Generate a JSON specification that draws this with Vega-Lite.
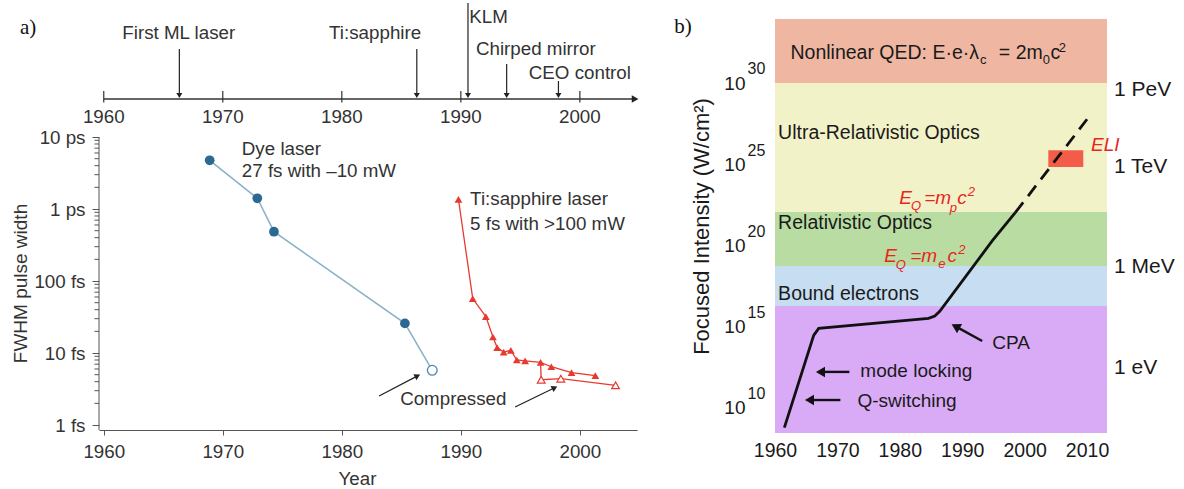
{
  "$schema": "https://vega.github.io/schema/vega-lite/v6.json",
  "background": "white",
  "padding": {"left": 11, "top": 2, "right": 14, "bottom": 4},
  "bounds": "flush",
  "spacing": 138,
  "config": {
    "view": {"stroke": null},
    "font": "Liberation Sans",
    "text": {"font": "Liberation Sans"},
    "axis": {"labelFont": "Liberation Sans", "titleFont": "Liberation Sans", "grid": false, "labelFlush": false, "labelOverlap": false}
  },
  "datasets": {
    "pulses": [
      {"s": "dye", "m": "f", "year": 1968.9, "fs": 4750},
      {"s": "dye", "m": "f", "year": 1972.9, "fs": 1410},
      {"s": "dye", "m": "f", "year": 1974.3, "fs": 484},
      {"s": "dye", "m": "f", "year": 1985.3, "fs": 25.8},
      {"s": "dye", "m": "o", "year": 1987.6, "fs": 5.75},
      {"s": "ti", "m": "f", "year": 1989.8, "fs": 1365},
      {"s": "ti", "m": "f", "year": 1991.0, "fs": 57},
      {"s": "ti", "m": "f", "year": 1992.1, "fs": 32},
      {"s": "ti", "m": "f", "year": 1992.7, "fs": 16.7},
      {"s": "ti", "m": "f", "year": 1993.05, "fs": 11.9},
      {"s": "ti", "m": "f", "year": 1993.6, "fs": 10.3},
      {"s": "ti", "m": "f", "year": 1994.2, "fs": 10.9},
      {"s": "ti", "m": "f", "year": 1994.7, "fs": 8.0},
      {"s": "ti", "m": "f", "year": 1995.4, "fs": 7.8},
      {"s": "ti", "m": "f", "year": 1996.7, "fs": 7.4},
      {"s": "ti", "m": "f", "year": 1997.6, "fs": 6.45},
      {"s": "ti", "m": "f", "year": 1999.3, "fs": 5.35},
      {"s": "ti", "m": "f", "year": 2001.3, "fs": 4.84},
      {"s": "tic", "m": "n", "year": 1996.7, "fs": 7.4},
      {"s": "tic", "m": "o", "year": 1996.75, "fs": 4.26},
      {"s": "tic", "m": "o", "year": 1998.4, "fs": 4.4},
      {"s": "tic", "m": "o", "year": 2003.0, "fs": 3.56}
    ],
    "minor": [
      {"year": 1959.6, "year2": 1959.22, "fs": 2}, {"year": 1959.6, "year2": 1959.22, "fs": 3}, {"year": 1959.6, "year2": 1959.22, "fs": 4}, {"year": 1959.6, "year2": 1959.22, "fs": 5},
      {"year": 1959.6, "year2": 1959.22, "fs": 6}, {"year": 1959.6, "year2": 1959.22, "fs": 7}, {"year": 1959.6, "year2": 1959.22, "fs": 8}, {"year": 1959.6, "year2": 1959.22, "fs": 9},
      {"year": 1959.6, "year2": 1959.22, "fs": 20}, {"year": 1959.6, "year2": 1959.22, "fs": 30}, {"year": 1959.6, "year2": 1959.22, "fs": 40}, {"year": 1959.6, "year2": 1959.22, "fs": 50},
      {"year": 1959.6, "year2": 1959.22, "fs": 60}, {"year": 1959.6, "year2": 1959.22, "fs": 70}, {"year": 1959.6, "year2": 1959.22, "fs": 80}, {"year": 1959.6, "year2": 1959.22, "fs": 90},
      {"year": 1959.6, "year2": 1959.22, "fs": 200}, {"year": 1959.6, "year2": 1959.22, "fs": 300}, {"year": 1959.6, "year2": 1959.22, "fs": 400}, {"year": 1959.6, "year2": 1959.22, "fs": 500},
      {"year": 1959.6, "year2": 1959.22, "fs": 600}, {"year": 1959.6, "year2": 1959.22, "fs": 700}, {"year": 1959.6, "year2": 1959.22, "fs": 800}, {"year": 1959.6, "year2": 1959.22, "fs": 900},
      {"year": 1959.6, "year2": 1959.22, "fs": 2000}, {"year": 1959.6, "year2": 1959.22, "fs": 3000}, {"year": 1959.6, "year2": 1959.22, "fs": 4000}, {"year": 1959.6, "year2": 1959.22, "fs": 5000},
      {"year": 1959.6, "year2": 1959.22, "fs": 6000}, {"year": 1959.6, "year2": 1959.22, "fs": 7000}, {"year": 1959.6, "year2": 1959.22, "fs": 8000}, {"year": 1959.6, "year2": 1959.22, "fs": 9000}
    ],
    "a_texts": [
      {"t": "Dye laser", "year": 1971.6, "fs": 6813},
      {"t": "27 fs with \u201310 mW", "year": 1971.6, "fs": 3373},
      {"t": "Ti:sapphire laser", "year": 1990.78, "fs": 1377},
      {"t": "5 fs with >100 mW", "year": 1990.78, "fs": 619},
      {"t": "Compressed", "year": 1984.9, "fs": 2.3}
    ],
    "a_arrows": [
      {"year": 1983.13, "fs": 2.53, "year2": 1986.36, "fs2": 4.82},
      {"year": 1994.56, "fs": 1.78, "year2": 1997.88, "fs2": 3.29}
    ],
    "a_heads": [
      {"year": 1986.36, "fs": 4.82},
      {"year": 1997.88, "fs": 3.29}
    ],
    "tl_line": [{"year": 1960, "year2": 2004.4, "lv": 0}],
    "tl_head": [{"year": 2004.64, "lv": 0}],
    "tl_ticks": [
      {"year": 1960, "lv": 0.8, "lv2": -0.35}, {"year": 1970, "lv": 0.8, "lv2": -0.35},
      {"year": 1980, "lv": 0.8, "lv2": -0.35}, {"year": 1990, "lv": 0.8, "lv2": -0.35},
      {"year": 2000, "lv": 0.8, "lv2": -0.35}
    ],
    "tl_labels": [
      {"t": "1960", "year": 1960, "lv": -1.8}, {"t": "1970", "year": 1970, "lv": -1.8},
      {"t": "1980", "year": 1980, "lv": -1.8}, {"t": "1990", "year": 1990, "lv": -1.8},
      {"t": "2000", "year": 2000, "lv": -1.8}
    ],
    "ev_rules": [
      {"year": 1966.35, "lv": 5.0, "lv2": 0.6},
      {"year": 1986.3, "lv": 5.0, "lv2": 0.6},
      {"year": 1990.6, "lv": 9.6, "lv2": 0.6},
      {"year": 1993.85, "lv": 3.5, "lv2": 0.6},
      {"year": 1998.2, "lv": 1.8, "lv2": 0.6}
    ],
    "ev_heads": [
      {"year": 1966.35, "lv": 0.35}, {"year": 1986.3, "lv": 0.35}, {"year": 1990.6, "lv": 0.35},
      {"year": 1993.85, "lv": 0.35}, {"year": 1998.2, "lv": 0.35}
    ],
    "ev_labels": [
      {"t": "First ML laser", "year": 1966.3, "lv": 6.6},
      {"t": "Ti:sapphire", "year": 1982.8, "lv": 6.6},
      {"t": "KLM", "year": 1992.33, "lv": 8.2},
      {"t": "Chirped mirror", "year": 1996.3, "lv": 5.0},
      {"t": "CEO control", "year": 2000.0, "lv": 2.6}
    ],
    "bands": [
      {"band": "qed", "year": 1960, "year2": 2013.2, "e": 30, "e2": 33.94},
      {"band": "ultra", "year": 1960, "year2": 2013.2, "e": 22.06, "e2": 30},
      {"band": "rel", "year": 1960, "year2": 2013.2, "e": 18.74, "e2": 22.06},
      {"band": "bound", "year": 1960, "year2": 2013.2, "e": 16.28, "e2": 18.74},
      {"band": "low", "year": 1960, "year2": 2013.2, "e": 8.46, "e2": 16.28}
    ],
    "eli": [{"year": 2003.8, "year2": 2009.4, "e": 24.83, "e2": 25.86}],
    "curve_solid": [
      {"year": 1961.5, "e": 8.79}, {"year": 1966.2, "e": 14.47}, {"year": 1967.0, "e": 14.9},
      {"year": 1984.6, "e": 15.52}, {"year": 1985.6, "e": 15.66}, {"year": 1986.4, "e": 15.95},
      {"year": 1994.8, "e": 20.28}, {"year": 1998.5, "e": 22.02}
    ],
    "curve_dash": [{"year": 1998.5, "e": 22.02}, {"year": 2010.0, "e": 27.77}],
    "band_labels": [
      {"t": "Ultra-Relativistic Optics", "year": 1960.5, "e": 26.92},
      {"t": "Relativistic Optics", "year": 1960.5, "e": 21.38},
      {"t": "Bound electrons", "year": 1960.5, "e": 17.02}
    ],
    "qed_main": [
      {"t": "Nonlinear QED: E\u00b7e\u00b7\u03bb", "year": 1962.48, "e": 31.85},
      {"t": "= 2m", "year": 1995.87, "e": 31.85},
      {"t": "c", "year": 2004.13, "e": 31.85}
    ],
    "qed_small": [
      {"t": "c", "year": 1992.85, "e": 31.42},
      {"t": "0", "year": 2002.91, "e": 31.42},
      {"t": "2", "year": 2005.47, "e": 32.18}
    ],
    "red_main": [
      {"t": "E", "year": 1979.92, "e": 22.94}, {"t": "=m", "year": 1983.9, "e": 22.94}, {"t": "c", "year": 1989.2, "e": 22.94},
      {"t": "E", "year": 1977.52, "e": 19.35}, {"t": "=m", "year": 1981.66, "e": 19.35}, {"t": "c", "year": 1987.66, "e": 19.35},
      {"t": "ELI", "year": 2010.64, "e": 26.18}
    ],
    "red_small": [
      {"t": "Q", "year": 1981.8, "e": 22.45}, {"t": "p", "year": 1988.0, "e": 22.31}, {"t": "2", "year": 1990.9, "e": 23.3},
      {"t": "Q", "year": 1979.35, "e": 18.82}, {"t": "e", "year": 1986.15, "e": 18.86}, {"t": "2", "year": 1989.35, "e": 19.7}
    ],
    "right_labels": [
      {"t": "1 PeV", "year": 2014.32, "e": 29.57},
      {"t": "1 TeV", "year": 2014.32, "e": 24.83},
      {"t": "1 MeV", "year": 2014.32, "e": 18.68},
      {"t": "1 eV", "year": 2014.32, "e": 12.46}
    ],
    "exponents": [
      {"t": "30", "year": 1955.6, "e": 30.84}, {"t": "25", "year": 1955.6, "e": 25.84},
      {"t": "20", "year": 1955.6, "e": 20.84}, {"t": "15", "year": 1955.6, "e": 15.84},
      {"t": "10", "year": 1955.6, "e": 10.84}
    ],
    "b_notes": [
      {"t": "CPA", "year": 1994.8, "e": 14.0},
      {"t": "mode locking", "year": 1973.68, "e": 12.28},
      {"t": "Q-switching", "year": 1973.2, "e": 10.43}
    ],
    "b_arrows": [
      {"year": 1993.2, "e": 14.12, "year2": 1988.94, "e2": 15.02},
      {"year": 1971.92, "e": 12.22, "year2": 1967.6, "e2": 12.22},
      {"year": 1970.48, "e": 10.49, "year2": 1965.9, "e2": 10.49}
    ],
    "b_head_cpa": [{"year": 1988.94, "e": 15.02}],
    "b_heads_left": [{"year": 1967.28, "e": 12.22}, {"year": 1965.52, "e": 10.49}]
  },
  "hconcat": [
    {
      "width": 538,
      "height": 411,
      "encoding": {
        "x": {
          "field": "year", "type": "quantitative",
          "scale": {"domain": [1959.6, 2004.8], "nice": false, "zero": false},
          "axis": {
            "values": [1960, 1970, 1980, 1990, 2000], "format": "d",
            "labelFontSize": 18.75, "labelColor": "#333", "tickColor": "#555", "domainColor": "#555",
            "tickSize": 5, "labelPadding": 7, "title": "Year", "titleFontSize": 18.75,
            "titleFontWeight": "normal", "titleColor": "#333", "titlePadding": 9, "titleX": 258
          }
        }
      },
      "layer": [
        {
          "encoding": {
            "y": {
              "field": "fs", "type": "quantitative",
              "scale": {"type": "log", "domain": [0.853, 435500], "nice": false},
              "axis": {
                "values": [1, 10, 100, 1000, 10000],
                "labelExpr": "datum.value == 1 ? '1 fs' : datum.value == 10 ? '10 fs' : datum.value == 100 ? '100 fs' : datum.value == 1000 ? '1 ps' : '10 ps'",
                "labelFontSize": 18.75, "labelColor": "#333", "tickColor": "#555", "tickSize": 7,
                "domain": false, "labelPadding": 7,
                "title": "FWHM pulse width", "titleFontSize": 19, "titleFontWeight": "normal",
                "titleColor": "#333", "titleX": -69, "titleY": 264
              }
            }
          },
          "layer": [
            {"data": {"name": "minor"}, "mark": {"type": "rule", "color": "#555", "strokeWidth": 1}, "encoding": {"x2": {"field": "year2"}}},
            {"data": {"values": [{"year": 1959.6, "fs": 0.853, "fs2": 10000}]}, "mark": {"type": "rule", "color": "#555", "strokeWidth": 1}, "encoding": {"y2": {"field": "fs2"}}},
            {"data": {"name": "pulses"}, "transform": [{"filter": "datum.s == 'dye'"}], "mark": {"type": "line", "color": "#8ab0c9", "strokeWidth": 1.5}},
            {"data": {"name": "pulses"}, "transform": [{"filter": "datum.s == 'ti'"}], "mark": {"type": "line", "color": "#e8392f", "strokeWidth": 1.3}},
            {"data": {"name": "pulses"}, "transform": [{"filter": "datum.s == 'tic'"}], "mark": {"type": "line", "color": "#e8392f", "strokeWidth": 1.3}},
            {"data": {"name": "pulses"}, "transform": [{"filter": "datum.s == 'dye' && datum.m == 'f'"}], "mark": {"type": "point", "shape": "circle", "filled": true, "color": "#2b6892", "opacity": 1, "size": 95}},
            {"data": {"name": "pulses"}, "transform": [{"filter": "datum.s == 'dye' && datum.m == 'o'"}], "mark": {"type": "point", "shape": "circle", "filled": true, "fill": "white", "stroke": "#4a86b0", "strokeWidth": 1.3, "opacity": 1, "size": 95}},
            {"data": {"name": "pulses"}, "transform": [{"filter": "datum.s == 'ti'"}], "mark": {"type": "point", "shape": "triangle-up", "filled": true, "color": "#e8392f", "opacity": 1, "size": 60}},
            {"data": {"name": "pulses"}, "transform": [{"filter": "datum.s == 'tic' && datum.m == 'o'"}], "mark": {"type": "point", "shape": "triangle-up", "filled": true, "fill": "white", "stroke": "#e8392f", "strokeWidth": 1.2, "opacity": 1, "size": 60}},
            {"data": {"name": "a_texts"}, "mark": {"type": "text", "align": "left", "baseline": "middle", "fontSize": 18.75, "color": "#333"}, "encoding": {"text": {"field": "t"}}},
            {"data": {"name": "a_arrows"}, "mark": {"type": "rule", "color": "#222", "strokeWidth": 1.2}, "encoding": {"x2": {"field": "year2"}, "y2": {"field": "fs2"}}},
            {"data": {"name": "a_heads"}, "mark": {"type": "point", "shape": "triangle-right", "angle": -27, "filled": true, "color": "#222", "opacity": 1, "size": 45}}
          ]
        },
        {
          "encoding": {
            "y": {"field": "lv", "type": "quantitative", "scale": {"domain": [-33.1, 8.0], "nice": false, "zero": false}, "axis": null}
          },
          "layer": [
            {"data": {"name": "tl_line"}, "mark": {"type": "rule", "color": "#333", "strokeWidth": 1.3}, "encoding": {"x2": {"field": "year2"}}},
            {"data": {"name": "tl_head"}, "mark": {"type": "point", "shape": "triangle-right", "filled": true, "color": "#222", "opacity": 1, "size": 60}},
            {"data": {"name": "tl_ticks"}, "mark": {"type": "rule", "color": "#333", "strokeWidth": 1.2}, "encoding": {"y2": {"field": "lv2"}}},
            {"data": {"name": "tl_labels"}, "mark": {"type": "text", "align": "center", "baseline": "middle", "fontSize": 18.75, "color": "#333"}, "encoding": {"text": {"field": "t"}}},
            {"data": {"name": "ev_rules"}, "mark": {"type": "rule", "color": "#222", "strokeWidth": 1.2}, "encoding": {"y2": {"field": "lv2"}}},
            {"data": {"name": "ev_heads"}, "mark": {"type": "point", "shape": "triangle-down", "filled": true, "color": "#222", "opacity": 1, "size": 36}},
            {"data": {"name": "ev_labels"}, "mark": {"type": "text", "align": "center", "baseline": "middle", "fontSize": 18.75, "color": "#333"}, "encoding": {"text": {"field": "t"}}},
            {"data": {"values": [{"t": "a)", "year": 1952.96, "lv": 7.1}]}, "mark": {"type": "text", "align": "left", "baseline": "middle", "fontSize": 21, "font": "Liberation Serif", "color": "#111"}, "encoding": {"text": {"field": "t"}}}
          ]
        }
      ],
      "resolve": {"scale": {"y": "independent"}}
    },
    {
      "width": 332,
      "height": 414,
      "encoding": {
        "x": {
          "field": "year", "type": "quantitative",
          "scale": {"domain": [1960, 2013.2], "nice": false, "zero": false},
          "axis": {
            "values": [1960, 1970, 1980, 1990, 2000, 2010], "format": "d",
            "labelFontSize": 19.5, "labelColor": "#1a1a1a", "domain": false, "ticks": false, "tickSize": 0,
            "labelPadding": 8, "title": null
          }
        },
        "y": {
          "field": "e", "type": "quantitative",
          "scale": {"domain": [8.46, 33.94], "nice": false, "zero": false},
          "axis": {
            "values": [10, 15, 20, 25, 30], "labelExpr": "'10'",
            "labelFontSize": 19, "labelColor": "#1a1a1a", "domain": false, "ticks": false, "tickSize": 0,
            "labelPadding": 30, "title": "Focused Intensity (W/cm\u00b2)", "titleFontSize": 22,
            "titleFontWeight": "normal", "titleColor": "#1a1a1a", "titleX": -62
          }
        }
      },
      "layer": [
        {
          "data": {"name": "bands"},
          "mark": {"type": "rect"},
          "encoding": {
            "x2": {"field": "year2"}, "y2": {"field": "e2"},
            "color": {"field": "band", "type": "nominal", "legend": null,
              "scale": {"domain": ["qed", "ultra", "rel", "bound", "low"], "range": ["#efb6a2", "#f2f2c8", "#b8dca2", "#c7ddf2", "#d9aaf6"]}}
          }
        },
        {"data": {"name": "eli"}, "mark": {"type": "rect", "color": "#f25c48"}, "encoding": {"x2": {"field": "year2"}, "y2": {"field": "e2"}}},
        {"data": {"name": "curve_solid"}, "mark": {"type": "line", "color": "#111", "strokeWidth": 2.8}},
        {"data": {"name": "curve_dash"}, "mark": {"type": "line", "color": "#111", "strokeWidth": 2.8, "strokeDash": [13, 8]}},
        {"data": {"name": "band_labels"}, "mark": {"type": "text", "align": "left", "baseline": "middle", "fontSize": 19.5, "color": "#1a1a1a"}, "encoding": {"text": {"field": "t"}}},
        {"data": {"name": "qed_main"}, "mark": {"type": "text", "align": "left", "baseline": "middle", "fontSize": 19.5, "color": "#1a1a1a"}, "encoding": {"text": {"field": "t"}}},
        {"data": {"name": "qed_small"}, "mark": {"type": "text", "align": "left", "baseline": "middle", "fontSize": 13, "color": "#1a1a1a"}, "encoding": {"text": {"field": "t"}}},
        {"data": {"name": "red_main"}, "mark": {"type": "text", "align": "left", "baseline": "middle", "fontSize": 19, "fontStyle": "italic", "color": "#e8261e"}, "encoding": {"text": {"field": "t"}}},
        {"data": {"name": "red_small"}, "mark": {"type": "text", "align": "left", "baseline": "middle", "fontSize": 13, "fontStyle": "italic", "color": "#e8261e"}, "encoding": {"text": {"field": "t"}}},
        {"data": {"name": "right_labels"}, "mark": {"type": "text", "align": "left", "baseline": "middle", "fontSize": 21, "color": "#1a1a1a"}, "encoding": {"text": {"field": "t"}}},
        {"data": {"name": "exponents"}, "mark": {"type": "text", "align": "left", "baseline": "middle", "fontSize": 16, "color": "#1a1a1a"}, "encoding": {"text": {"field": "t"}}},
        {"data": {"name": "b_notes"}, "mark": {"type": "text", "align": "left", "baseline": "middle", "fontSize": 19, "color": "#1a1a1a"}, "encoding": {"text": {"field": "t"}}},
        {"data": {"name": "b_arrows"}, "mark": {"type": "rule", "color": "#111", "strokeWidth": 2.4}, "encoding": {"x2": {"field": "year2"}, "y2": {"field": "e2"}}},
        {"data": {"name": "b_head_cpa"}, "mark": {"type": "point", "shape": "triangle-right", "angle": -151.2, "filled": true, "color": "#111", "opacity": 1, "size": 110}},
        {"data": {"name": "b_heads_left"}, "mark": {"type": "point", "shape": "triangle-left", "filled": true, "color": "#111", "opacity": 1, "size": 110}},
        {"data": {"values": [{"t": "b)", "year": 1943.87, "e": 33.45}]}, "mark": {"type": "text", "align": "left", "baseline": "middle", "fontSize": 21, "font": "Liberation Serif", "color": "#111"}, "encoding": {"text": {"field": "t"}}}
      ]
    }
  ]
}
